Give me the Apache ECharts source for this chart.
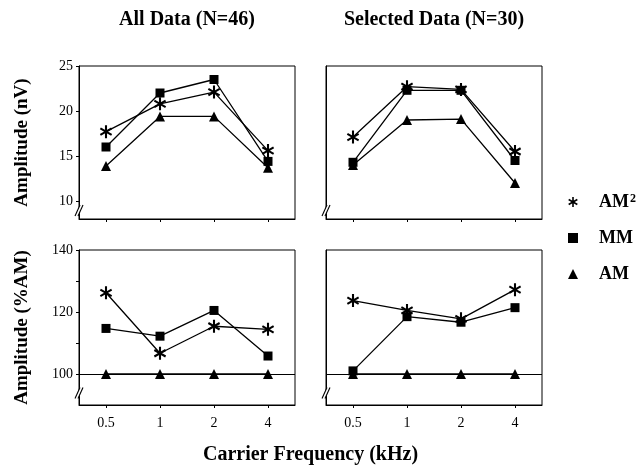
<!DOCTYPE html>
<html><head><meta charset="utf-8">
<script src="https://cdn.jsdelivr.net/npm/echarts@6/dist/echarts.min.js"></script>
<style>html,body{margin:0;padding:0;background:#fff}#c{width:641px;height:468px}</style>
</head><body><div id="c"></div>
<script>
// ---- data ----
const categories = ['0.5', '1', '2', '4'];
const allAM2 = [17.7, 20.8, 22.1, 15.6];
const allMM  = [16.0, 22.0, 23.5, 14.4];
const allAM  = [13.9, 19.4, 19.4, 13.7];
const selAM2 = [17.1, 22.7, 22.4, 15.5];
const selMM  = [14.3, 22.3, 22.3, 14.5];
const selAM  = [14.0, 19.0, 19.1, 12.0];
const allPctAM2 = [126.2, 106.7, 115.4, 114.4];
const allPctMM  = [114.7, 112.2, 120.5, 105.8];
const allPctAM  = [100, 100, 100, 100];
const selPctAM2 = [123.7, 120.5, 117.8, 127.2];
const selPctMM  = [101.0, 118.5, 116.7, 121.4];
const selPctAM  = [100, 100, 100, 100];
const nvTicks = [10, 15, 20, 25];
const pctLabelTicks = [100, 120, 140];
const pctAllTicks = [100, 110, 120, 130, 140];
const seriesNames = ['AM2', 'MM', 'AM'];
const panelTitles = ['All Data (N=46)', 'Selected Data (N=30)'];
const yNames = ['Amplitude (nV)', 'Amplitude (%AM)'];
const xName = 'Carrier Frequency (kHz)';

// ---- styling / layout ----
const FONT = '"Liberation Serif", "Times New Roman", serif';
const starPath = 'path://M -1.6 10 L 1.6 10 L 1.6 -10 L -1.6 -10 Z ' +
  'M 7.86 6.386 L 9.46 3.614 L -7.86 -6.386 L -9.46 -3.614 Z ' +
  'M -9.46 3.614 L -7.86 6.386 L 9.46 -3.614 L 7.86 -6.386 Z';
const symbols = [starPath, 'rect', 'triangle'];
const symSizes = [13, 9, 10];

const grids = [
  { left: 79, top: 66, width: 216, height: 153 },
  { left: 326, top: 66, width: 216, height: 153 },
  { left: 79, top: 250, width: 216, height: 155 },
  { left: 326, top: 250, width: 216, height: 155 }
];
const panelData = [
  [allAM2, allMM, allAM],
  [selAM2, selMM, selAM],
  [allPctAM2, allPctMM, allPctAM],
  [selPctAM2, selPctMM, selPctAM]
];
const breakValues = [9, 9, 94, 94];

const xAxes = grids.map((g, i) => ({
  type: 'category', gridIndex: i, data: categories, boundaryGap: true,
  axisLine: { lineStyle: { color: '#000', width: 1 } },
  axisTick: { show: true, alignWithLabel: true, length: 3, lineStyle: { color: '#000' } },
  axisLabel: { show: i >= 2, color: '#000', fontFamily: FONT, fontSize: 14, margin: 11 },
  splitLine: { show: false }
}));

const yAxes = grids.map((g, i) => {
  const top = i < 2;
  const leftCol = (i % 2) === 0;
  return {
    type: 'value', gridIndex: i,
    min: top ? 8 : 90, max: top ? 25 : 140,
    name: leftCol ? yNames[top ? 0 : 1] : '',
    nameLocation: 'middle', nameGap: 47, nameRotate: 90,
    nameTextStyle: { color: '#000', fontFamily: FONT, fontWeight: 'bold', fontSize: 19 },
    axisLine: { show: true, lineStyle: { color: '#000', width: 1 } },
    axisTick: { show: leftCol, length: 3, lineStyle: { color: '#000' },
      customValues: top ? nvTicks : pctAllTicks },
    axisLabel: { show: leftCol, color: '#000', fontFamily: FONT, fontSize: 14, margin: 6,
      customValues: top ? nvTicks : pctLabelTicks },
    splitLine: { show: false }
  };
});

const series = [];
panelData.forEach((arrs, gi) => {
  arrs.forEach((vals, si) => {
    const s = {
      name: seriesNames[si], type: 'line', xAxisIndex: gi, yAxisIndex: gi,
      data: vals, symbol: symbols[si], symbolSize: symSizes[si], symbolKeepAspect: true,
      showSymbol: true,
      lineStyle: { color: '#000', width: 1.3 },
      itemStyle: { color: '#000' },
      z: 3 + si, silent: true
    };
    if (gi >= 2 && si === 2) {
      s.markLine = { silent: true, symbol: 'none', label: { show: false },
        lineStyle: { color: '#000', type: 'solid', width: 1.2 },
        data: [{ yAxis: 100 }] };
    }
    series.push(s);
  });
});

const chart = echarts.init(document.getElementById('c'), null, { renderer: 'canvas' });
const option = {
  animation: false,
  backgroundColor: '#fff',
  grid: grids.map(g => Object.assign({ show: true, borderColor: '#000', borderWidth: 1, backgroundColor: 'transparent' }, g)),
  xAxis: xAxes,
  yAxis: yAxes,
  legend: {
    orient: 'vertical', left: 563, top: 188, itemWidth: 10, itemHeight: 10, itemGap: 18,
    selectedMode: false,
    data: seriesNames.map((n, i) => ({ name: n, icon: symbols[i] })),
    formatter: n => n === 'AM2' ? 'AM{s|2}' : n,
    textStyle: { color: '#000', fontFamily: FONT, fontWeight: 'bold', fontSize: 18, padding: [0, 0, 0, 16],
      rich: { s: { fontFamily: FONT, fontWeight: 'bold', fontSize: 12, color: '#000', verticalAlign: 'top', padding: [0, 0, 6, 1] } } }
  },
  series: series
};
chart.setOption(option);

// titles, x-axis name and axis break marks
const graphics = [];
[0, 1].forEach(i => {
  graphics.push({ type: 'text', x: grids[i].left + grids[i].width / 2, y: 20,
    style: { text: panelTitles[i], fill: '#000', fontFamily: FONT, fontWeight: 'bold', fontSize: 20, align: 'center', verticalAlign: 'middle' } });
});
graphics.push({ type: 'text', x: (grids[0].left + grids[1].left + grids[1].width) / 2, y: 455,
  style: { text: xName, fill: '#000', fontFamily: FONT, fontWeight: 'bold', fontSize: 20, align: 'center', verticalAlign: 'middle' } });
grids.forEach((g, i) => {
  const y = chart.convertToPixel({ yAxisIndex: i }, breakValues[i]);
  const x = g.left;
  graphics.push({ type: 'polygon', shape: { points: [[x - 4, y + 6], [x + 1, y - 5], [x + 4, y - 5], [x - 1, y + 6]] },
    style: { fill: '#fff', stroke: null }, z: 100 });
  graphics.push({ type: 'line', shape: { x1: x - 4, y1: y + 6, x2: x + 1, y2: y - 5 }, style: { stroke: '#000', lineWidth: 1.1 }, z: 101 });
  graphics.push({ type: 'line', shape: { x1: x - 1, y1: y + 6, x2: x + 4, y2: y - 5 }, style: { stroke: '#000', lineWidth: 1.1 }, z: 101 });
});
chart.setOption({ graphic: graphics });
</script>
</body></html>
